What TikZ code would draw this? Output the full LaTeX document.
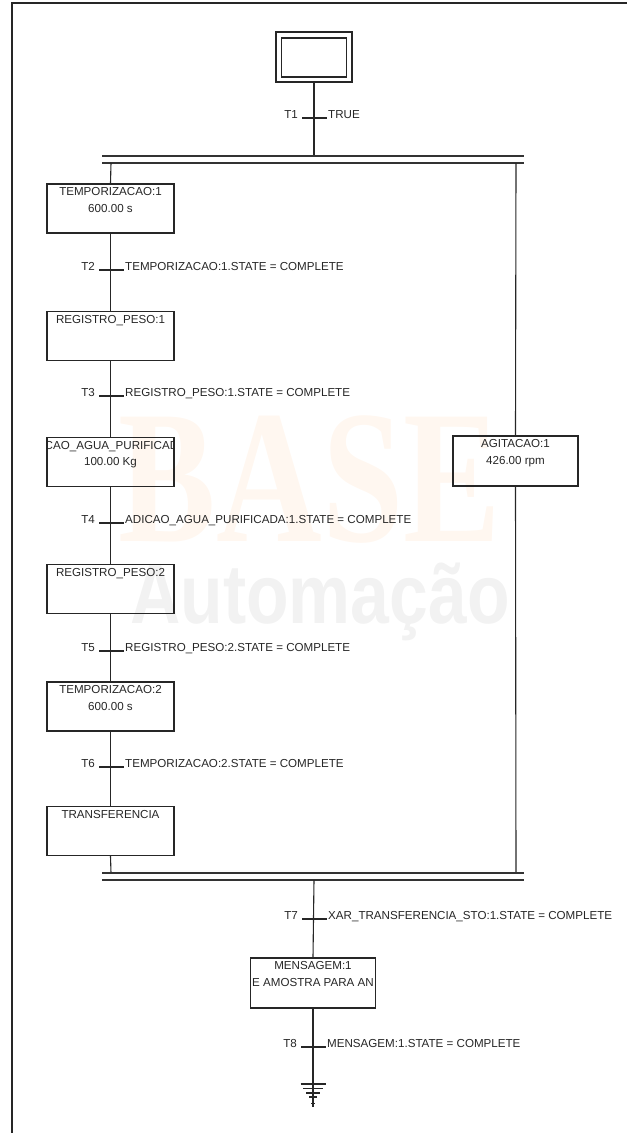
\documentclass[tikz,border=0pt]{standalone}
\usepackage{fontspec}
\setmainfont{Liberation Sans}
\newfontfamily\wmserif{Liberation Serif}
\begin{document}
\begin{tikzpicture}[x=1pt,y=-1pt,
  lin/.style={line width=1.1pt, draw=black!85},
  bar/.style={line width=1.3pt, draw=black!80},
  stepbox/.style={draw=black!85, line width=1.2pt, minimum width=127pt, minimum height=49pt, inner sep=0pt},
  txt/.style={font=\fontsize{11.6}{13}\selectfont, text=black!85, inner sep=0pt},
  tick/.style={line width=1.1pt, draw=black!85}]
\useasboundingbox (0,0) rectangle (627,1133);
% watermark
\node[font={\wmserif\bfseries\fontsize{190}{190}\selectfont}, text=orange!6, xscale=0.77, inner sep=0pt] (wm1) at (310,480) {BASE};
\node[font={\bfseries\fontsize{84}{84}\selectfont}, text=black!5, xscale=0.83, inner sep=0pt, anchor=base] (wm2) at (320,623) {Automação};
% frame
\draw[line width=2.4pt, black!85] (12,1133) -- (12,3) -- (627,3);
% initial step
\node[stepbox, minimum width=76pt, minimum height=50pt] (init) at (314,57) {};
\node[stepbox, minimum width=65pt, minimum height=39pt] (initin) at (314,57.5) {};
% coordinates
\coordinate (t1) at (314,118);
\coordinate (j1) at (314,156);
\coordinate (b1L) at (102,156);
\coordinate (b1R) at (524,156);
\coordinate (b2L) at (102,163);
\coordinate (b2R) at (524,163);
\coordinate (c2L) at (111,163);
\coordinate (c2R) at (516,163);
\coordinate (b3L) at (102,873);
\coordinate (b3R) at (524,873);
\coordinate (b4L) at (102,880);
\coordinate (b4R) at (524,880);
\coordinate (c3L) at (111,873);
\coordinate (c3R) at (516,873);
\coordinate (j4) at (314,880);
\coordinate (t2) at (111,270);
\coordinate (t3) at (111,396);
\coordinate (t4) at (111,523);
\coordinate (t5) at (111,651);
\coordinate (t6) at (111,767);
\coordinate (t7) at (314,919);
\coordinate (t8) at (313,1047);
\coordinate (g) at (313,1084);
% steps
\node[stepbox] (s1) at (110.5,208.5) {};
\node[stepbox] (s2) at (110.5,336) {};
\node[stepbox] (s3) at (110.5,462) {};
\node[stepbox] (s4) at (110.5,589) {};
\node[stepbox] (s5) at (110.5,706.5) {};
\node[stepbox] (s6) at (110.5,831) {};
\node[stepbox, minimum width=125pt, minimum height=50pt] (ag) at (515.5,461) {};
\node[stepbox, minimum width=125pt, minimum height=50pt] (s7) at (313,983) {};
% step texts
\node[txt, anchor=base] (s1a) at ([yshift=-12.5]s1.north) {TEMPORIZACAO:1};
\node[txt, anchor=base] (s1b) at ([yshift=-29]s1.north) {600.00 s};
\node[txt, anchor=base] (s2a) at ([yshift=-12.5]s2.north) {REGISTRO\_PESO:1};
\begin{scope}
\clip (s3.south west) rectangle (s3.north east);
\node[txt, anchor=base] (s3a) at ([yshift=-12.5]s3.north) {ADICAO\_AGUA\_PURIFICADA:1};
\end{scope}
\node[txt, anchor=base] (s3b) at ([yshift=-29]s3.north) {100.00 Kg};
\node[txt, anchor=base] (s4a) at ([yshift=-12.5]s4.north) {REGISTRO\_PESO:2};
\node[txt, anchor=base] (s5a) at ([yshift=-12.5]s5.north) {TEMPORIZACAO:2};
\node[txt, anchor=base] (s5b) at ([yshift=-29]s5.north) {600.00 s};
\node[txt, anchor=base] (s6a) at ([yshift=-12.5]s6.north) {TRANSFERENCIA};
\node[txt, anchor=base] (aga) at ([yshift=-12.5]ag.north) {AGITACAO:1};
\node[txt, anchor=base] (agb) at ([yshift=-29]ag.north) {426.00 rpm};
\node[txt, anchor=base] (s7a) at ([yshift=-12.5]s7.north) {MENSAGEM:1};
\begin{scope}
\clip (s7.south west) rectangle (s7.north east);
\node[txt, anchor=base] (s7b) at ([yshift=-29]s7.north) {E AMOSTRA PARA AN};
\end{scope}
% connectors
\draw[lin] (init.south) -- (j1);
\draw[bar] (b1L) -- (b1R);
\draw[bar] (b2L) -- (b2R);
\draw[lin] (c2L) -- (s1.north);
\draw[lin] (s1.south) -- (s2.north);
\draw[lin] (s2.south) -- (s3.north);
\draw[lin] (s3.south) -- (s4.north);
\draw[lin] (s4.south) -- (s5.north);
\draw[lin] (s5.south) -- (s6.north);
\draw[lin] (s6.south) -- (c3L);
\draw[lin] (c2R) -- (ag.north);
\draw[lin] (ag.south) -- (c3R);
\draw[bar] (b3L) -- (b3R);
\draw[bar] (b4L) -- (b4R);
\draw[lin] (j4) -- (s7.north);
\draw[lin] (s7.south) -- (g);
% transitions
\foreach \t/\n/\c in {t1/T1/TRUE, t2/T2/TEMPORIZACAO:1.STATE = COMPLETE, t3/T3/REGISTRO\_PESO:1.STATE = COMPLETE, t4/T4/ADICAO\_AGUA\_PURIFICADA:1.STATE = COMPLETE, t5/T5/REGISTRO\_PESO:2.STATE = COMPLETE, t6/T6/TEMPORIZACAO:2.STATE = COMPLETE, t7/T7/XAR\_TRANSFERENCIA\_STO:1.STATE = COMPLETE, t8/T8/MENSAGEM:1.STATE = COMPLETE}{
  \draw[tick] ([xshift=-12]\t) -- ([xshift=13]\t);
  \node[txt, anchor=base east] (\t n) at ([xshift=-16]\t) {\n};
  \node[txt, anchor=base west] (\t c) at ([xshift=14]\t) {\c};
}
% ground
\draw[lin] (g) -- ([yshift=-23]g);
\draw[lin] ([xshift=-12.5]g) -- ([xshift=12.5]g);
\draw[lin] ([xshift=-10,yshift=-4.5]g) -- ([xshift=10,yshift=-4.5]g);
\draw[lin] ([xshift=-7,yshift=-9]g) -- ([xshift=7,yshift=-9]g);
\draw[lin] ([xshift=-4,yshift=-13]g) -- ([xshift=4,yshift=-13]g);
\draw[line width=0.8pt, black!85] ([xshift=-2,yshift=-19]g) -- ([xshift=2,yshift=-19]g);
\end{tikzpicture}
\end{document}
